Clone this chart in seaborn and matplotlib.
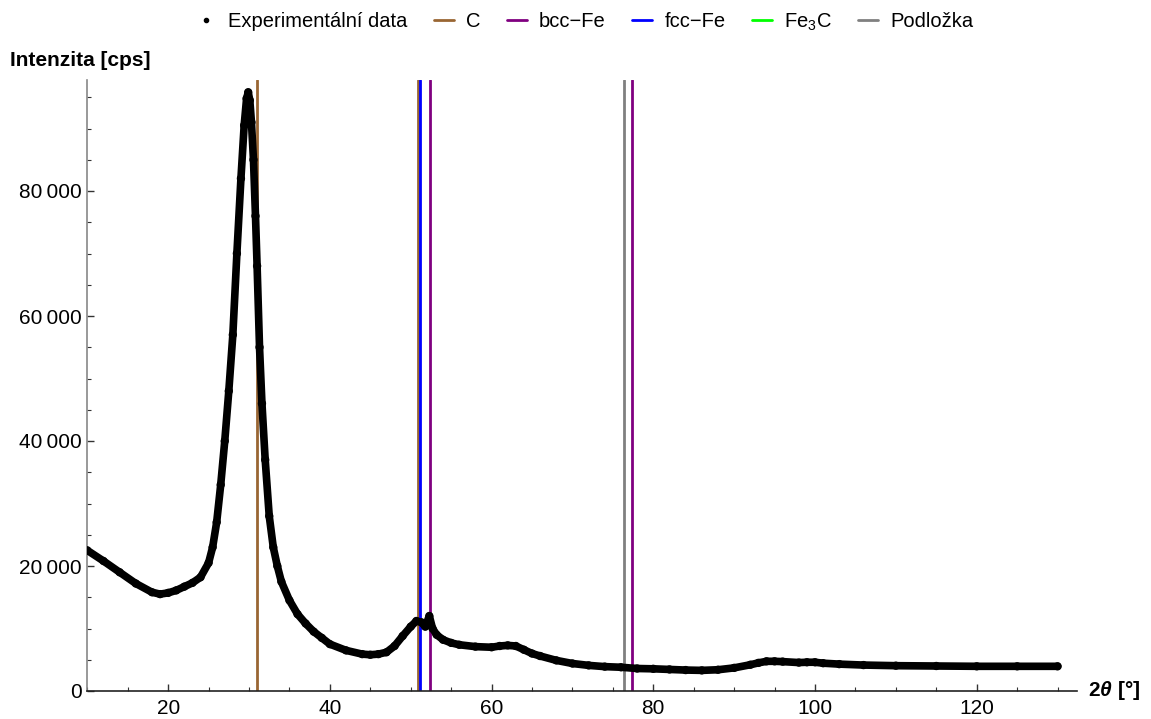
import numpy as np
import pandas as pd
import matplotlib
matplotlib.use("Agg")
import matplotlib.pyplot as plt
from matplotlib.lines import Line2D
from matplotlib.ticker import MultipleLocator, FuncFormatter
import seaborn as sns

# ---- data ----
two_theta = [10, 12, 14, 16, 18, 19, 20, 21, 22, 23, 24, 25, 25.5, 26, 26.5, 27, 27.5,
             28, 28.5, 29, 29.4, 29.7, 29.9, 30.1, 30.3, 30.55, 30.8, 31.0, 31.3, 31.6,
             32, 32.5, 33, 33.5, 34, 35, 36, 37, 38, 39, 40, 42, 44, 45, 46, 47, 48, 49,
             50, 50.7, 51.3, 51.8, 52.3, 52.7, 53.2, 54, 55, 56, 58, 60, 61, 62, 63, 64,
             65, 66, 68, 70, 72, 74, 76, 78, 80, 82, 84, 86, 88, 90, 92, 93, 94, 95,
             96, 98, 99, 100, 101, 103, 106, 110, 115, 120, 125, 130]
intensity = [22500, 20800, 19000, 17200, 15800, 15500, 15700, 16100, 16700, 17300, 18200,
             20500, 23000, 27000, 33000, 40000, 48000, 57000, 70000, 82000, 90500, 94800,
             95800, 94500, 91000, 85000, 76000, 68000, 55000, 46000, 37000, 28000, 23000,
             20000, 17500, 14500, 12300, 10800, 9500, 8500, 7500, 6500, 5900, 5800, 5900,
             6200, 7200, 8800, 10300, 11200, 11000, 10300, 12000, 10000, 9000, 8200, 7700,
             7400, 7100, 7000, 7200, 7300, 7200, 6600, 6000, 5600, 4900, 4400, 4100, 3900,
             3800, 3600, 3550, 3450, 3350, 3300, 3400, 3700, 4200, 4500, 4750, 4750, 4700,
             4550, 4600, 4600, 4450, 4300, 4150, 4050, 4000, 3950, 3950, 3950]

phase_names = ["C", "bcc\u2212Fe", "fcc\u2212Fe", "Fe$_3$C", "Podložka"]
phase_colors = ["#996633", "#800080", "#0000ff", "#00ff00", "#808080"]
phase_lines = {
    "C": [31.0, 50.9],
    "bcc\u2212Fe": [52.4, 77.4],
    "fcc\u2212Fe": [51.1],
    "Fe$_3$C": [],
    "Podložka": [76.4],
}

x_ticks = [20, 40, 60, 80, 100, 120]
y_ticks = [0, 20000, 40000, 60000, 80000]

df = pd.DataFrame({"x": two_theta, "y": intensity})

sns.set_theme(style="ticks")
plt.rcParams["font.family"] = ["Liberation Sans", "DejaVu Sans"]
plt.rcParams["text.color"] = "black"
plt.rcParams["axes.labelcolor"] = "black"
plt.rcParams["mathtext.fontset"] = "custom"
plt.rcParams["mathtext.rm"] = "Liberation Sans"
plt.rcParams["mathtext.it"] = "Liberation Sans:italic"
plt.rcParams["mathtext.bf"] = "Liberation Sans:bold"
try:
    plt.rcParams["mathtext.bfit"] = "Liberation Sans:bold:italic"
except KeyError:
    pass

fig = plt.figure(figsize=(11.51, 7.19), dpi=100)
ax = fig.add_axes([87.3 / 1151, 1 - 691 / 719, (1077 - 87.3) / 1151, (691 - 80) / 719])

# vertical phase lines
for name, col in zip(phase_names, phase_colors):
    for pos in phase_lines[name]:
        ax.axvline(pos, color=col, lw=2.0, zorder=2)

sns.lineplot(data=df, x="x", y="y", ax=ax, color="black", lw=5.5, zorder=3,
             legend=False, sort=False)
sns.scatterplot(data=df, x="x", y="y", ax=ax, color="black", s=36, edgecolor="none",
                zorder=4, legend=False)

ax.set_xlim(10, 132.4)
ax.set_ylim(0, 97760)
ax.set_xlabel("")
ax.set_ylabel("")
ax.set_xticks(x_ticks)
ax.set_yticks(y_ticks)
ax.xaxis.set_minor_locator(MultipleLocator(5))
ax.yaxis.set_minor_locator(MultipleLocator(5000))
ax.yaxis.set_major_formatter(FuncFormatter(
    lambda v, p: "0" if v == 0 else f"{int(v):,}".replace(",", "\u2009")))

for s in ["top", "right"]:
    ax.spines[s].set_visible(False)
ax.spines["left"].set_color("#888888")
ax.spines["bottom"].set_color("#222222")
ax.spines["left"].set_linewidth(1.2)
ax.spines["bottom"].set_linewidth(1.2)
ax.tick_params(axis="both", which="major", direction="in", length=5, width=1,
               labelsize=15, colors="#333333", labelcolor="black")
ax.tick_params(axis="both", which="minor", direction="in", length=3, width=0.8,
               colors="#333333")
ax.tick_params(axis="x", pad=6)
ax.tick_params(axis="y", pad=4)

fig.text(10 / 1151, 1 - 60 / 719, "Intenzita [cps]", fontsize=15, fontweight="bold",
         ha="left", va="center", color="black")
fig.text(1088 / 1151, 1 - 691 / 719, r"2$\boldsymbol{\theta}$ [°]", fontsize=15,
         fontweight="bold", ha="left", va="center", color="black")

handles = [Line2D([], [], marker="o", ls="none", color="black", markersize=3.0)]
for name, col in zip(phase_names, phase_colors):
    handles.append(Line2D([], [], color=col, lw=2))
labels = ["Experimentální data"] + phase_names
leg = fig.legend(handles, labels, loc="center", bbox_to_anchor=(0.508, 1 - 22 / 719),
                 ncol=6, frameon=False, fontsize=14.5, handlelength=1.0,
                 handletextpad=0.6, columnspacing=1.3)
for t in leg.get_texts():
    t.set_color("black")

fig.savefig("out.png", dpi=100)
